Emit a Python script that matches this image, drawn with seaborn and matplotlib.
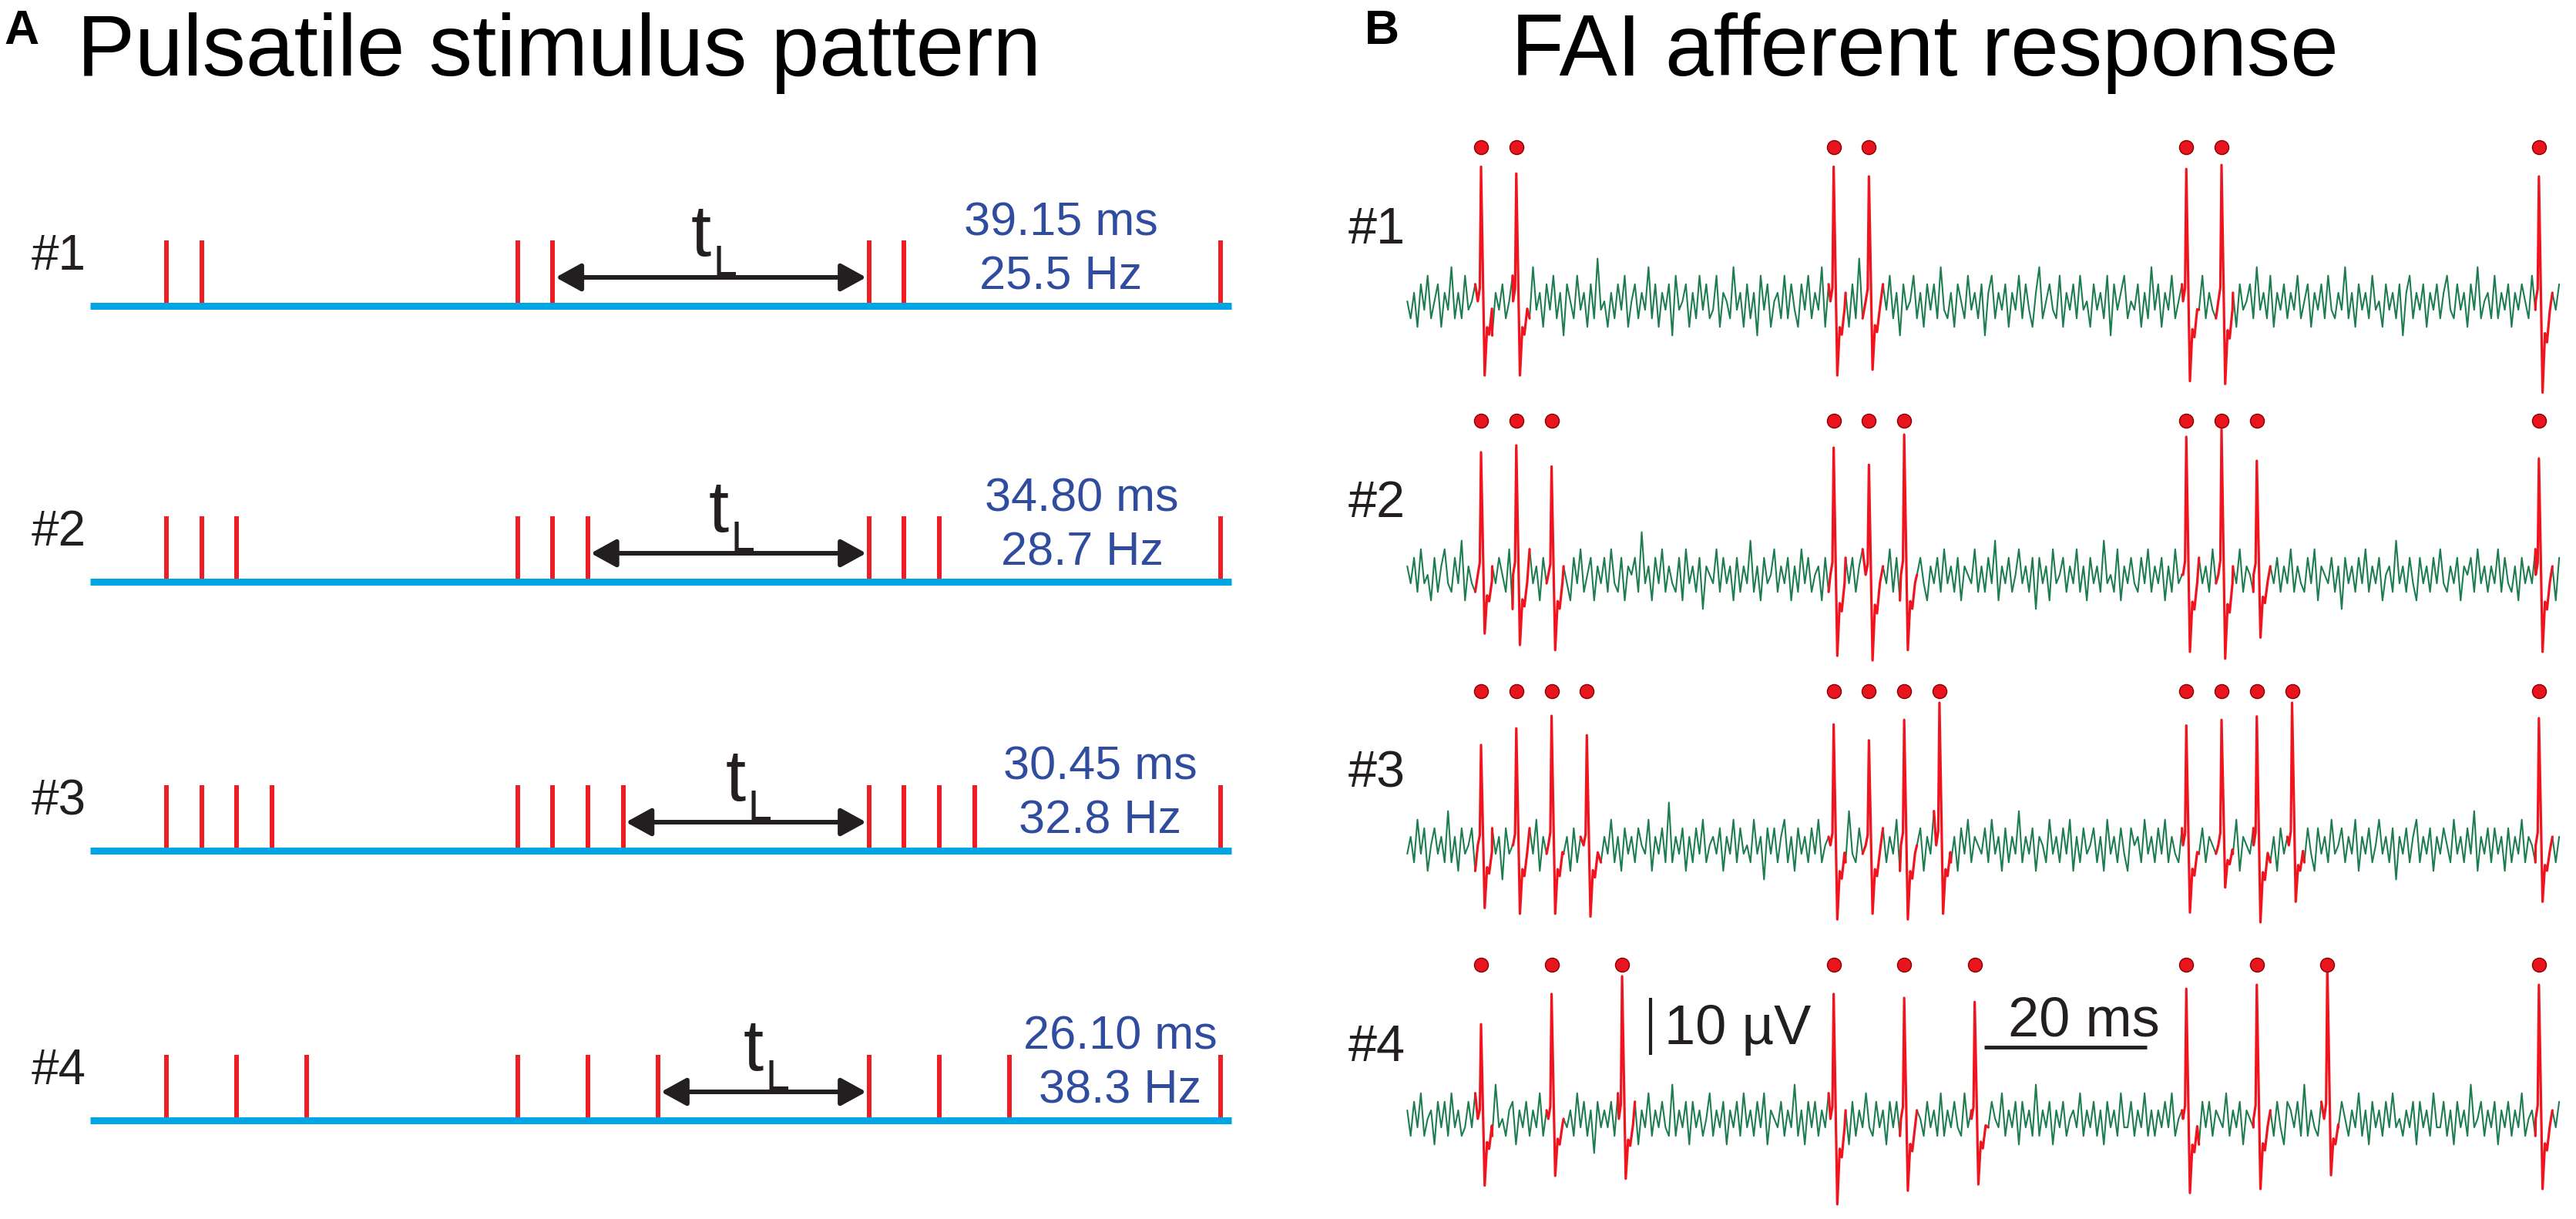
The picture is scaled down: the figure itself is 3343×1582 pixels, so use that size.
import numpy as np
import pandas as pd
import seaborn as sns
import matplotlib.pyplot as plt

# === Data ===
pulse_step_ms = 4.35
row_names = ['#1', '#2', '#3', '#4']
pulse_idx = [
    [0, 1, 10, 11, 20, 21, 30],
    [0, 1, 2, 10, 11, 12, 20, 21, 22, 30],
    [0, 1, 2, 3, 10, 11, 12, 13, 20, 21, 22, 23, 30],
    [0, 2, 4, 10, 12, 14, 20, 22, 24, 30],
]
tl_from = [11, 12, 13, 14]
tl_to = [20, 20, 20, 20]
interval_txt = ['39.15 ms', '34.80 ms', '30.45 ms', '26.10 ms']
freq_txt = ['25.5 Hz', '28.7 Hz', '32.8 Hz', '38.3 Hz']

spike_peak = [
    [23.6, 22.4, 23.6, 21.9, 23.2, 23.9, 21.9],
    [21.5, 22.7, 19.0, 22.3, 19.3, 24.6, 24.2, 25.5, 20.0, 20.4],
    [17.6, 20.5, 22.7, 19.3, 21.2, 18.4, 22.0, 25.0, 21.0, 22.0, 22.6, 25.0, 22.3],
    [16.6, 21.9, 25.0, 21.9, 21.2, 20.5, 22.8, 23.5, 27.0, 23.5],
]
spike_trough = [
    [-13, -13, -13, -12, -14, -14.5, -16],
    [-10.3, -12.3, -13.2, -14.2, -15, -13.2, -13.5, -14.7, -11, -13.5],
    [-11, -12, -12, -12.5, -13, -12, -13, -12, -11.8, -7.4, -13.5, -9.9, -9.9],
    [-11.7, -10, -10.5, -15, -12.6, -11.5, -13, -12.3, -9.9, -12.3],
]
# spike waveform: time (ms from peak), weight of peak, weight of trough
spike_t = [-0.4, -0.15, 0.0, 0.45, 0.75, 1.0, 1.35]
spike_wp = [0.0, 0.1, 1.0, 0.0, 0.0, 0.0, 0.0]
spike_wt = [0.0, 0.0, 0.0, 1.0, 0.35, 0.45, 0.1]
dot_uv = 27

# background noise, digitised in steps of noise_unit_uv
noise_unit_uv = 1.5
noise_1 = [0,-2,1,-3,2,-1,3,-2,0,2,-3,1,-1,4,-2,1,-2,3,-1,0,
           2,-3,1,-2,3,-4,1,-1,2,-2,0,3,-1,2,-3,1,-2,4,-1,1,
           -3,2,-1,3,-2,1,-4,2,0,-2,3,-1,1,-3,2,-2,5,-1,0,-3,
           1,-2,2,-1,3,-3,0,2,-2,1,-1,4,-2,2,-3,1,-1,2,-4,3,
           -1,0,2,-3,1,-2,3,-1,2,-2,-1,3,-3,1,0,-2,4,-1,1,-3,
           2,-2,1,-4,3,-1,2,-3,0,1,-2,3,-2,2,-1,-3,2,-1,3,-2,
           1,-1,4,-3,2,-2,0,3,-1,1,-3,2,-2,5,-2,1,-1,2,-3,0,
           2,-1,3,-2,1,-4,2,-1,0,3,-2,1,-3,2,-1,2,-2,4,-1,-2,
           1,-3,2,0,-2,3,-1,1,-2,2,-4,1,3,-2,1,-1,2,-3,1,-1,
           3,-2,2,-1,-3,1,4,-2,0,2,-1,-2,3,-3,1,-1,2,-2,3,-1,
           0,-3,2,-1,1,-2,3,-4,2,-1,1,3,-2,0,-1,2,-3,1,-2,4,
           -1,2,-3,1,-1,3,-2,0,2,-2,1,-3,2,-1,3,-2,1,-1,-2,1,
           -2,3,-1,1,-3,2,-1,0,2,-2,4,-1,1,-2,3,-3,1,-1,2,-2,
           1,-1,3,-2,0,2,-3,1,-1,2,-2,3,-1,-2,1,-1,4,-2,1,-3,
           2,-1,1,-2,3,-1,0,-3,2,-1,1,-2,2,-4,1,3,-2,1,-1,2,
           -3,1,-1,2,-2,1,3,-1,-2,2,-1,1,-3,2,-1,4,-2,0,1,-2,
           3,-2,1,-1,2,-3,1,-1,2,0,-2,3,-1,1,-2,2,-3,1,-1,2]
noise_2 = [1,-1,2,-2,3,-1,0,-3,2,-2,1,3,-1,-2,2,-1,4,-3,1,-1,
           -2,2,-1,3,-3,1,-1,2,0,-2,3,-4,1,2,-1,-2,3,-1,1,-3,
           2,-1,1,-2,4,-2,1,-1,-3,2,-1,3,-2,0,2,-3,1,-1,2,-2,
           3,-1,-2,2,-3,1,0,2,-2,5,-1,1,-3,2,-1,3,-2,1,-1,-2,
           2,-3,3,-1,1,-2,2,-4,1,0,-1,3,-2,2,-1,1,-3,2,-2,1,
           -1,4,-2,1,-3,2,-1,0,3,-2,1,-1,2,-3,1,-2,3,-1,2,-2,
           0,1,-3,2,-2,3,-1,1,-4,2,-1,2,-2,1,3,-3,0,-1,2,-2,
           1,-1,3,-2,2,-3,1,-1,4,-2,0,2,-1,-3,1,-1,2,-2,3,-1,
           1,-2,2,-3,1,0,-1,3,-2,1,-2,2,-1,4,-3,1,-1,2,-2,0,
           3,-1,1,-2,2,-4,2,-1,1,-3,3,-1,0,2,-2,1,-1,3,-2,1,
           -3,2,-1,1,-2,4,-1,0,-2,3,-3,1,-1,2,-1,-2,2,-1,3,-2,
           1,-1,2,-3,1,-2,3,-1,0,2,-2,1,-3,2,-1,1,-2,3,-1,0,
           -1,2,-3,1,-1,3,-2,1,0,-2,2,-1,4,-3,1,-1,2,-2,1,-1,
           3,-2,1,-1,-2,2,-1,3,-3,1,0,-1,2,-2,1,-4,2,-1,1,-2,
           2,-1,3,-2,1,-1,2,-3,0,1,-2,4,-1,1,-2,2,-1,-3,2,-1,
           1,-2,2,-1,3,-1,-2,1,-1,2,-3,1,0,2,-2,3,-1,1,-2,1,
           -1,3,-2,2,-1,-2,1,-3,2,-1,1,-1,3,-2,0,2,-1,1,-3,2]
noise_3 = [-1,1,-2,3,-1,2,-3,0,2,-1,1,-2,4,-2,1,-3,2,-1,0,2,
           -3,1,-1,3,-2,2,-1,1,-4,2,-1,0,3,-2,1,-2,2,-1,3,-3,
           1,-1,2,-2,0,3,-1,1,-3,2,-2,1,-1,4,-2,2,-1,-2,1,-1,
           3,-2,1,-3,2,-1,1,-2,2,0,-1,3,-3,1,-1,2,-2,5,-2,1,
           -1,2,-3,1,-2,2,-1,3,-2,0,1,-1,2,-3,1,-1,3,-2,2,-1,
           0,-2,3,-1,1,-4,2,-1,2,-2,1,3,-2,1,-3,2,-1,1,-2,2,
           -1,3,-2,0,1,-3,2,-1,1,-2,4,-1,-2,2,-1,1,-3,3,-1,0,
           2,-2,1,-1,3,-3,1,-2,2,-1,0,2,-3,1,-1,4,-2,1,-1,2,
           -2,1,-3,2,-1,3,-2,1,0,-1,2,-2,3,-1,1,-3,2,-2,1,-1,
           4,-2,1,-1,2,-3,1,0,-2,3,-1,1,-2,2,-1,3,-3,1,-2,2,
           -1,0,2,-2,1,-3,3,-1,1,-2,2,-1,-3,2,0,1,-2,3,-1,1,
           -2,2,-1,3,-2,1,-1,-2,2,-1,4,-3,1,-1,2,-2,1,0,-1,2,
           1,-2,2,-1,3,-3,1,0,-1,2,-2,1,-1,4,-2,1,-3,2,-1,1,
           -2,3,-1,1,-2,2,-1,-3,2,-1,1,-2,3,-1,0,2,-2,1,-1,3,
           -3,1,-1,2,-2,0,3,-1,1,-2,2,-4,1,-1,2,-2,1,3,-2,1,
           -1,2,-3,1,-1,2,0,-2,3,-1,1,-2,2,-1,4,-3,1,-1,2,-2,
           2,-1,1,-3,2,-2,1,-1,3,-2,1,0,-2,2,-1,3,-1,1,-2,1]
noise_4 = [1,-2,2,-1,3,-2,0,1,-3,2,-1,2,-2,3,-1,1,-2,-1,2,-1,
           3,-3,1,-1,2,-2,4,-1,0,-2,1,2,-3,1,-1,2,-2,1,-1,3,
           -2,1,-1,2,-3,2,0,-1,1,-2,3,-1,2,-2,1,-4,2,-1,1,-1,
           2,-2,3,-1,0,1,-2,2,-3,1,-1,3,-2,1,-1,2,-1,-2,4,-2,
           1,-1,2,-3,2,-1,1,-2,0,3,-2,1,-1,2,-3,1,-1,2,-2,3,
           -1,1,-2,2,-1,3,-3,1,0,-1,2,-2,1,-1,4,-2,1,-3,2,-1,
           2,-2,1,-1,3,-2,0,2,-1,1,-3,2,-2,1,-1,3,-1,-2,2,-1,
           1,-3,2,-1,2,-2,1,-1,3,-3,1,0,-2,2,-1,1,-2,3,-2,1,
           -1,2,-1,-2,3,-1,1,-3,2,-2,1,-1,2,0,-1,3,-2,1,-1,2,
           -3,2,-1,1,-2,4,-2,1,-1,2,-3,1,-1,2,-2,0,1,-1,3,-2,
           1,-1,2,-2,1,-3,2,-1,1,-2,3,-1,-1,2,-2,1,-1,3,-2,1,
           -2,1,-1,2,-1,3,-2,0,1,-2,2,-1,1,-3,2,-1,2,-2,1,0,
           -1,3,-2,1,-1,2,-3,1,0,-1,2,-2,3,-1,1,-2,2,-1,-3,2,
           1,-1,2,-2,4,-2,1,-1,-2,2,-1,3,-3,1,-1,2,0,-2,1,-1,
           3,-2,1,-3,2,-1,1,-2,2,-1,3,-1,0,-2,1,-1,2,-3,2,-1,
           1,-2,3,-1,-1,2,-2,1,-3,2,-1,1,-2,4,-1,0,2,-2,1,-1,
           2,-3,1,-1,2,-2,1,-1,3,-2,0,1,-2,2,-1,3,-3,1,-1,2]
noise_rows = [noise_1, noise_2, noise_3, noise_4]
trace_span_ms = (-9.1, 133.0)
stim_span_ms = (-9.45, 131.9)
scale_uv = 10
scale_ms = 20

# === Layout (pixels of the 3343x1582 canvas) ===
W, H = 3343, 1582
A_t0_px, A_pxms = 216, 10.48
B_t0_px, B_pxms = 1922, 10.52
px_per_uv = 7.4
A_base = [397, 755, 1104, 1454]
B_base = [391, 746, 1097, 1452]
A_txt_x = [1377, 1404, 1428, 1454]

C_RED = '#EE1D23'
C_BLUE = '#00A5E3'
C_GREEN = '#1E7D4F'
C_DARK = '#231F20'
C_TXT_BLUE = '#2F4C9E'

sns.set_theme(style='white')
plt.rcParams['font.family'] = ['Liberation Sans', 'DejaVu Sans']

fig = plt.figure(figsize=(W / 100, H / 100), dpi=100, facecolor='white')


def row_axes(x0, x1, ybase, below, above, t0_px, pxms, yscale):
    ax = fig.add_axes([x0 / W, 1 - (ybase + below) / H, (x1 - x0) / W, (below + above) / H])
    ax.set_xlim((x0 - t0_px) / pxms, (x1 - t0_px) / pxms)
    ax.set_ylim(-below / yscale, above / yscale)
    ax.axis('off')
    ax.patch.set_alpha(0)
    return ax


def ftext(x, y, s, **kw):
    fig.text(x / W, 1 - y / H, s, va='baseline', **kw)


# === Titles ===
ftext(5, 57, 'A', fontsize=45, fontweight='bold', color='black')
ftext(100, 98, 'Pulsatile stimulus pattern', fontsize=81, color='black')
ftext(1771, 57, 'B', fontsize=45, fontweight='bold', color='black')
ftext(1961, 98, 'FAI afferent response', fontsize=81, color='black')

# === Panel A: stimulus patterns ===
for r in range(4):
    ax = row_axes(100, 1640, A_base[r], 120, 180, A_t0_px, A_pxms, 1.0)
    times = np.array(pulse_idx[r]) * pulse_step_ms
    ax.vlines(times, 0, 85, color=C_RED, lw=4.3, zorder=2)
    ax.hlines(0, *stim_span_ms, color=C_BLUE, lw=6.5, zorder=3)

    t_a = tl_from[r] * pulse_step_ms + 0.35
    t_b = tl_to[r] * pulse_step_ms - 0.35
    ax.annotate('', xy=(t_b, 37), xytext=(t_a, 37),
                arrowprops=dict(arrowstyle='<|-|>,head_length=20,head_width=11',
                                mutation_scale=1, lw=4.3, color=C_DARK,
                                shrinkA=0, shrinkB=0))
    mid = (t_a + t_b) / 2
    ax.text(mid, 65, 't', fontsize=68, ha='right', va='baseline', color=C_DARK)
    ax.text(mid + 0.25, 40, 'L', fontsize=40, ha='left', va='baseline', color=C_DARK)

    tx = (A_txt_x[r] - A_t0_px) / A_pxms
    ax.text(tx, 92, interval_txt[r], fontsize=44, ha='center', va='baseline', color=C_TXT_BLUE)
    ax.text(tx, 22, freq_txt[r], fontsize=44, ha='center', va='baseline', color=C_TXT_BLUE)

    ftext(41, A_base[r] - 47, row_names[r], fontsize=46, color=C_DARK)

# === Panel B: afferent recordings ===
for r in range(4):
    ax = row_axes(1800, 3343, B_base[r], 170, 240, B_t0_px, B_pxms, px_per_uv)
    v = np.array(noise_rows[r], dtype=float) * noise_unit_uv
    t = np.linspace(trace_span_ms[0], trace_span_ms[1], len(v))
    spikes = np.array(pulse_idx[r]) * pulse_step_ms

    mask = np.zeros(len(t), dtype=bool)
    for ts in spikes:
        mask |= (t >= ts + spike_t[0]) & (t <= ts + spike_t[-1])
    seg = np.cumsum(mask)
    noise_df = pd.DataFrame({'t': t[~mask], 'v': v[~mask], 'seg': seg[~mask]})
    sns.lineplot(data=noise_df, x='t', y='v', units='seg', estimator=None, sort=False,
                 color=C_GREEN, lw=1.5, legend=False, ax=ax)

    red = []
    for k, ts in enumerate(spikes):
        pre = np.where(t < ts + spike_t[0])[0]
        post = np.where(t > ts + spike_t[-1])[0]
        xs, ys = [], []
        if len(pre):
            xs.append(t[pre[-1]]); ys.append(v[pre[-1]])
        for st, wp, wt in zip(spike_t, spike_wp, spike_wt):
            xs.append(ts + st)
            ys.append(wp * spike_peak[r][k] + wt * spike_trough[r][k])
        if len(post):
            xs.append(t[post[0]]); ys.append(v[post[0]])
        red.append(pd.DataFrame({'t': xs, 'v': ys, 'seg': k}))
    red_df = pd.concat(red, ignore_index=True)
    sns.lineplot(data=red_df, x='t', y='v', units='seg', estimator=None, sort=False,
                 color='#F0141E', lw=2.3, legend=False, ax=ax)

    sns.scatterplot(x=spikes, y=np.full(len(spikes), dot_uv), s=170, color='#E8141E',
                    edgecolor='#8B0000', linewidth=1.0, legend=False, ax=ax, zorder=5)

    ftext(1750, B_base[r] - 75, row_names[r], fontsize=48, color=C_DARK)

    if r == 3:
        # scale bars
        ax.vlines(20.9, 11.2, 11.2 + scale_uv, color=C_DARK, lw=3)
        ax.text(22.6, 13.1, f'{scale_uv} µV', fontsize=52, ha='left', va='baseline', color=C_DARK)
        ax.hlines(12.6, 62.1, 62.1 + scale_ms, color=C_DARK, lw=3.5)
        ax.text(74.4, 14.5, f'{scale_ms} ms', fontsize=52, ha='center', va='baseline', color=C_DARK)

fig.savefig('out.png', dpi=100, facecolor='white')
